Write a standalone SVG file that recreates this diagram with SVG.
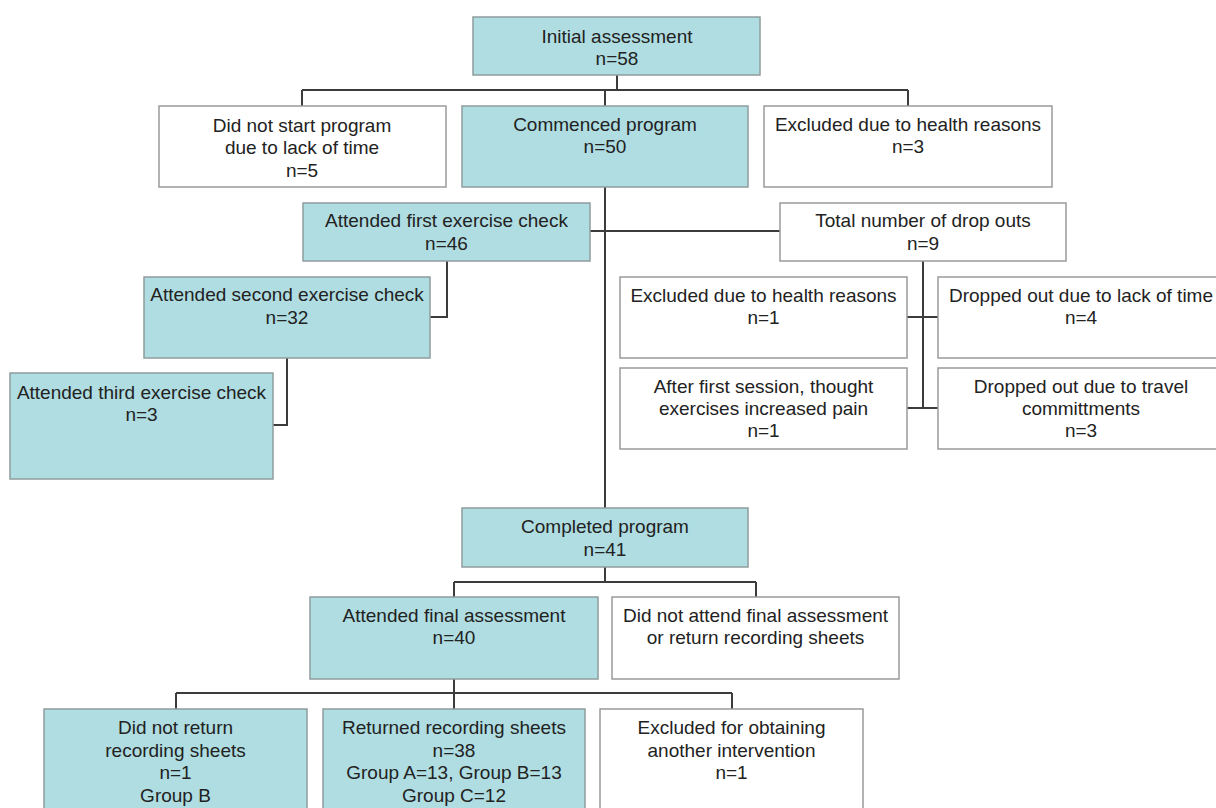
<svg xmlns="http://www.w3.org/2000/svg" width="1216" height="808" viewBox="0 0 1216 808">
<style>
  .teal { fill: #afdde1; stroke: #8f9c9d; stroke-width: 1.5; }
  .white { fill: #ffffff; stroke: #9a9a9a; stroke-width: 1.5; }
  text { font-family: "Liberation Sans", Arial, sans-serif; font-size: 19px; fill: #222222; text-anchor: middle; }
  .conn { fill: none; stroke: #3c3c3c; stroke-width: 2; }
</style>
<rect x="0" y="0" width="1216" height="808" fill="#ffffff"/>
<g id="connectors">
  <path class="conn" d="M617 75 V90 M302 90 H908 M302 90 V106 M605 90 V106 M908 90 V106"/>
  <path class="conn" d="M605 187 V508"/>
  <path class="conn" d="M590 231 H780"/>
  <path class="conn" d="M447 261 V317 H430"/>
  <path class="conn" d="M287 358 V425 H273"/>
  <path class="conn" d="M923 261 V408 M907 317 H938 M907 408 H938"/>
  <path class="conn" d="M605 567 V582 M454 582 H756 M454 582 V597 M756 582 V597"/>
  <path class="conn" d="M454 679 V709 M176 693 H732 M176 693 V709 M732 693 V709"/>
</g>
<g id="initial">
  <rect class="teal" x="473" y="17" width="287" height="58"/>
  <text x="617" y="43">Initial assessment</text>
  <text x="617" y="65">n=58</text>
</g>
<g id="did-not-start">
  <rect class="white" x="159" y="106" width="287" height="81"/>
  <text x="302" y="132">Did not start program</text>
  <text x="302" y="154">due to lack of time</text>
  <text x="302" y="177">n=5</text>
</g>
<g id="commenced">
  <rect class="teal" x="462" y="106" width="286" height="81"/>
  <text x="605" y="131">Commenced program</text>
  <text x="605" y="153">n=50</text>
</g>
<g id="excluded-health-top">
  <rect class="white" x="764" y="106" width="288" height="81"/>
  <text x="908" y="131">Excluded due to health reasons</text>
  <text x="908" y="153">n=3</text>
</g>
<g id="first-check">
  <rect class="teal" x="303" y="203" width="287" height="58"/>
  <text x="446.5" y="227">Attended first exercise check</text>
  <text x="446.5" y="250">n=46</text>
</g>
<g id="total-dropouts">
  <rect class="white" x="780" y="203" width="286" height="58"/>
  <text x="923" y="227">Total number of drop outs</text>
  <text x="923" y="250">n=9</text>
</g>
<g id="second-check">
  <rect class="teal" x="144" y="277" width="286" height="81"/>
  <text x="287" y="301">Attended second exercise check</text>
  <text x="287" y="324">n=32</text>
</g>
<g id="third-check">
  <rect class="teal" x="10" y="373" width="263" height="106"/>
  <text x="141.5" y="399">Attended third exercise check</text>
  <text x="141.5" y="421">n=3</text>
</g>
<g id="excluded-health-1">
  <rect class="white" x="620" y="277" width="287" height="81"/>
  <text x="763.5" y="302">Excluded due to health reasons</text>
  <text x="763.5" y="324">n=1</text>
</g>
<g id="dropped-time">
  <rect class="white" x="938" y="277" width="286" height="81"/>
  <text x="1081" y="302">Dropped out due to lack of time</text>
  <text x="1081" y="324">n=4</text>
</g>
<g id="after-first-session">
  <rect class="white" x="620" y="368" width="287" height="81"/>
  <text x="763.5" y="393">After first session, thought</text>
  <text x="763.5" y="415">exercises increased pain</text>
  <text x="763.5" y="437">n=1</text>
</g>
<g id="dropped-travel">
  <rect class="white" x="938" y="368" width="286" height="81"/>
  <text x="1081" y="393">Dropped out due to travel</text>
  <text x="1081" y="415">committments</text>
  <text x="1081" y="437">n=3</text>
</g>
<g id="completed">
  <rect class="teal" x="462" y="508" width="286" height="59"/>
  <text x="605" y="533">Completed program</text>
  <text x="605" y="556">n=41</text>
</g>
<g id="final-assessment">
  <rect class="teal" x="310" y="597" width="288" height="82"/>
  <text x="454" y="622">Attended final assessment</text>
  <text x="454" y="644">n=40</text>
</g>
<g id="did-not-attend">
  <rect class="white" x="612" y="597" width="287" height="82"/>
  <text x="755.5" y="622">Did not attend final assessment</text>
  <text x="755.5" y="644">or return recording sheets</text>
</g>
<g id="did-not-return">
  <rect class="teal" x="44" y="709" width="263" height="110"/>
  <text x="175.5" y="734">Did not return</text>
  <text x="175.5" y="757">recording sheets</text>
  <text x="175.5" y="779">n=1</text>
  <text x="175.5" y="802">Group B</text>
</g>
<g id="returned">
  <rect class="teal" x="323" y="709" width="262" height="110"/>
  <text x="454" y="734">Returned recording sheets</text>
  <text x="454" y="757">n=38</text>
  <text x="454" y="779">Group A=13, Group B=13</text>
  <text x="454" y="802">Group C=12</text>
</g>
<g id="excluded-intervention">
  <rect class="white" x="600" y="709" width="263" height="110"/>
  <text x="731.5" y="734">Excluded for obtaining</text>
  <text x="731.5" y="757">another intervention</text>
  <text x="731.5" y="779">n=1</text>
</g>
</svg>
